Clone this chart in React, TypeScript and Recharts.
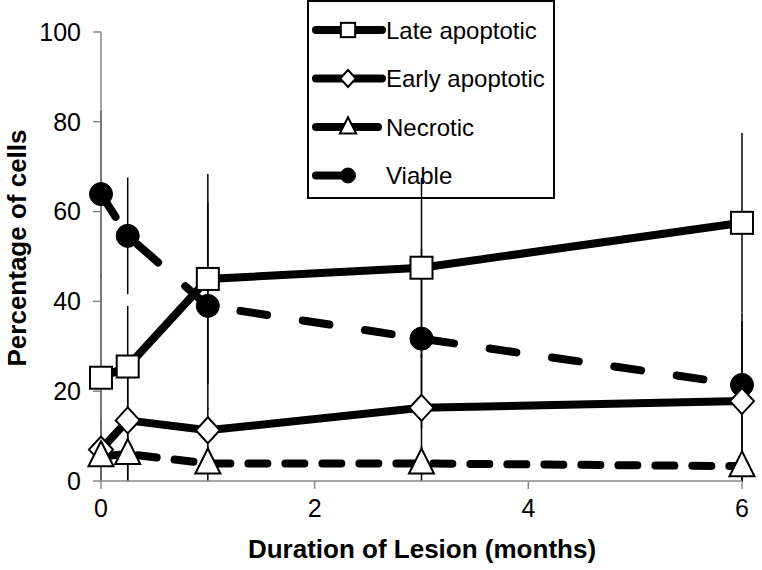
import { LineChart, Line, XAxis, YAxis, ErrorBar, Legend } from 'recharts';

// duration of lesion (months)
const months = [0, 0.25, 1, 3, 6];

// percentage of cells, per group
const lateApoptotic = [23, 25.5, 45, 47.5, 57.5];
const earlyApoptotic = [7, 13.5, 11.3, 16.3, 17.8];
const necrotic = [5.5, 6, 3.9, 3.9, 3.3];
const viable = [63.9, 54.6, 39, 31.7, 21.4];

// error bar half-lengths
const lateSd = [23, 13.5, 23.4, 20, 20];
const earlySd = [7, 13.5, 5, 12, 17.8];
const necroticSd = [5.5, 6, 3.9, 3.9, 3.3];
const viableSd = [18.6, 13, 23, 20, 16];

const xTicks = [0, 2, 4, 6];
const yTicks = [0, 20, 40, 60, 80, 100];

const legendItems = [
  { name: 'Late apoptotic', shape: 'square' },
  { name: 'Early apoptotic', shape: 'diamond' },
  { name: 'Necrotic', shape: 'triangle' },
  { name: 'Viable', shape: 'circle' },
];

const data = months.map((m, i) => ({
  month: m,
  late: lateApoptotic[i],
  lateErr: lateSd[i],
  early: earlyApoptotic[i],
  earlyErr: earlySd[i],
  necrotic: necrotic[i],
  necroticErr: necroticSd[i],
  viable: viable[i],
  viableErr: viableSd[i],
}));

const FONT = '"Liberation Sans", Arial, Helvetica, sans-serif';

const Marker = ({ shape, cx, cy, s = 1 }: { shape: string; cx: number; cy: number; s?: number }) => {
  if (shape === 'square') {
    return (
      <rect x={cx - 11 * s} y={cy - 11 * s} width={22 * s} height={22 * s} fill="#fff" stroke="#000" strokeWidth={2} />
    );
  }
  if (shape === 'diamond') {
    const w = 12 * s;
    const h = 13 * s;
    return (
      <polygon
        points={`${cx},${cy - h} ${cx + w},${cy} ${cx},${cy + h} ${cx - w},${cy}`}
        fill="#fff"
        stroke="#000"
        strokeWidth={2}
      />
    );
  }
  if (shape === 'triangle') {
    return (
      <polygon
        points={`${cx},${cy - 15 * s} ${cx + 12.5 * s},${cy + 10 * s} ${cx - 12.5 * s},${cy + 10 * s}`}
        fill="#fff"
        stroke="#000"
        strokeWidth={2}
      />
    );
  }
  return <circle cx={cx} cy={cy} r={11.5 * s} fill="#000" stroke="#000" />;
};

const dotOf = (shape: string) => (props: any) => (
  <Marker key={`${shape}-${props.index}`} shape={shape} cx={props.cx} cy={props.cy} />
);

const LegendBox = () => (
  <svg width={248} height={199} style={{ display: 'block' }}>
    <rect x={1} y={1} width={246} height={197} fill="none" stroke="#000" strokeWidth={2} />
    {legendItems.map((item, i) => {
      const y = 30 + i * 48.5;
      return (
        <g key={item.name}>
          <line
            x1={9}
            y1={y}
            x2={item.shape === 'circle' ? 41 : item.shape === 'triangle' ? 71 : 75}
            y2={y}
            stroke="#000"
            strokeWidth={8}
            strokeLinecap="round"
          />
          <Marker shape={item.shape} cx={41} cy={y} s={0.65} />
          <text x={79} y={y} dominantBaseline="central" fontFamily={FONT} fontSize={24} fill="#000">
            {item.name}
          </text>
        </g>
      );
    })}
  </svg>
);

const tickStyle = { fill: '#000', fontSize: 25, fontFamily: FONT };

export default function App() {
  return (
    <div style={{ position: 'absolute', left: 0, top: 0, background: '#fff' }}>
      <LineChart width={762} height={570} data={data} margin={{ top: 32, right: 20, bottom: 9, left: 41 }}>
        <XAxis
          dataKey="month"
          type="number"
          domain={[0, 6]}
          ticks={xTicks}
          height={80}
          stroke="#888"
          strokeWidth={1.5}
          tickSize={8}
          tickMargin={10}
          tick={tickStyle}
          label={{
            content: () => (
              <text
                x={422}
                y={549}
                textAnchor="middle"
                dominantBaseline="central"
                fontFamily={FONT}
                fontSize={26}
                fontWeight="bold"
                fill="#000"
              >
                Duration of Lesion (months)
              </text>
            ),
          }}
        />
        <YAxis
          type="number"
          domain={[0, 100]}
          ticks={yTicks}
          width={60}
          stroke="#888"
          strokeWidth={1.5}
          tickSize={8}
          tickMargin={12}
          tick={tickStyle}
          label={{
            content: () => (
              <text
                x={17}
                y={248}
                transform="rotate(-90, 17, 248)"
                textAnchor="middle"
                dominantBaseline="central"
                fontFamily={FONT}
                fontSize={26}
                fontWeight="bold"
                fill="#000"
              >
                Percentage of cells
              </text>
            ),
          }}
        />
        <Legend
          layout="vertical"
          align="center"
          verticalAlign="middle"
          wrapperStyle={{ left: 307, top: 0, width: 248, height: 199 }}
          content={() => <LegendBox />}
        />
        <Line
          dataKey="viable"
          name="Viable"
          stroke="#000"
          strokeWidth={8}
          strokeDasharray="27 36"
          strokeLinecap="round"
          dot={dotOf('circle')}
          activeDot={false}
          isAnimationActive={false}
        >
          <ErrorBar dataKey="viableErr" width={0} stroke="#000" strokeWidth={1.5} />
        </Line>
        <Line
          dataKey="early"
          name="Early apoptotic"
          stroke="#000"
          strokeWidth={8}
          strokeLinecap="round"
          dot={dotOf('diamond')}
          activeDot={false}
          isAnimationActive={false}
        >
          <ErrorBar dataKey="earlyErr" width={0} stroke="#000" strokeWidth={1.5} />
        </Line>
        <Line
          dataKey="necrotic"
          name="Necrotic"
          stroke="#000"
          strokeWidth={8}
          strokeDasharray="19 18"
          strokeLinecap="round"
          dot={dotOf('triangle')}
          activeDot={false}
          isAnimationActive={false}
        >
          <ErrorBar dataKey="necroticErr" width={0} stroke="#000" strokeWidth={1.5} />
        </Line>
        <Line
          dataKey="late"
          name="Late apoptotic"
          stroke="#000"
          strokeWidth={8}
          strokeLinecap="round"
          dot={dotOf('square')}
          activeDot={false}
          isAnimationActive={false}
        >
          <ErrorBar dataKey="lateErr" width={0} stroke="#000" strokeWidth={1.5} />
        </Line>
      </LineChart>
    </div>
  );
}
